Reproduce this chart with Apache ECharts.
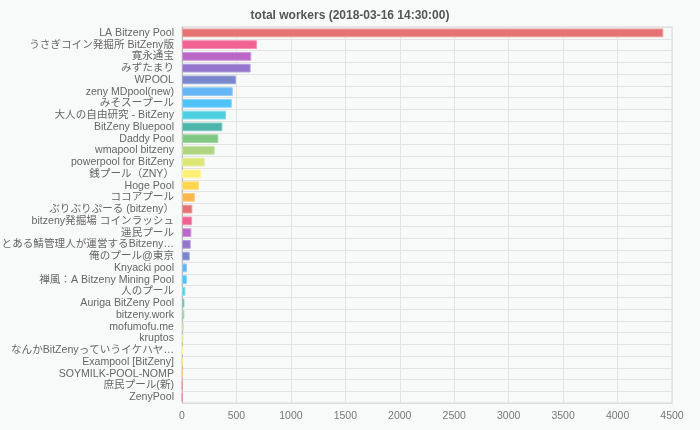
<!DOCTYPE html>
<html>
<head>
<meta charset="utf-8">
<script src="https://cdn.jsdelivr.net/npm/echarts@6/dist/echarts.min.js"></script>
<style>
html,body{margin:0;padding:0;background:#f8f9f9;}
#c{width:700px;height:430px;}
</style>
</head>
<body>
<div id="c"></div>
<script>
const titleText = 'total workers (2018-03-16 14:30:00)';
const categories = [
  'LA Bitzeny Pool','うさぎコイン発掘所 BitZeny版','寛永通宝','みずたまり','WPOOL','zeny MDpool(new)',
  'みそスープール','大人の自由研究 - BitZeny','BitZeny Bluepool','Daddy Pool','wmapool bitzeny',
  'powerpool for BitZeny','銭プール（ZNY）','Hoge Pool','ココアプール','ぶりぶりぷーる (bitzeny）',
  'bitzeny発掘場 コインラッシュ','遥民プール','とある鯖管理人が運営するBitzeny…','俺のプール@東京',
  'Knyacki pool','禅風：A Bitzeny Mining Pool','人のプール','Auriga BitZeny Pool','bitzeny.work',
  'mofumofu.me','kruptos','なんかBitZenyっていうイケハヤ…','Exampool [BitZeny]','SOYMILK-POOL-NOMP',
  '庶民プール(新)','ZenyPool'
];
const workers = [4420, 688, 636, 630, 496, 466, 457, 404, 371, 334, 300, 208, 175, 156, 119, 95,
  93, 86, 80, 71, 46, 45, 31, 22, 21, 15, 13, 6, 5, 4, 3, 2];
const xTicks = {min: 0, max: 4500, interval: 500};
const palette = ['#E57373','#F06292','#BA68C8','#9575CD','#7986CB','#64B5F6','#4FC3F7','#4DD0E1',
  '#4DB6AC','#81C784','#AED581','#DCE775','#FFF176','#FFD54F','#FFB74D'];
const borderPalette = ['#EF9A9A','#F48FB1','#CE93D8','#B39DDB','#9FA8DA','#90CAF9','#81D4FA','#80DEEA',
  '#80CBC4','#A5D6A7','#C5E1A5','#E6EE9C','#FFF59D','#FFE082','#FFCC80'];

const font = '"Liberation Sans", Arial, "Noto Sans CJK JP", sans-serif';

const chart = echarts.init(document.getElementById('c'), null, {renderer: 'canvas'});
chart.setOption({
  backgroundColor: '#f8f9f9',
  animation: false,
  title: {
    text: titleText, left: 'center', top: 5,
    textStyle: {fontSize: 12, fontWeight: 'bold', color: '#555', fontFamily: font}
  },
  grid: {left: 182, right: 28, top: 27, bottom: 27, containLabel: false, outerBoundsMode: 'none',
    show: true, borderColor: '#d6d6d6', borderWidth: 1},
  xAxis: {
    type: 'value', min: xTicks.min, max: xTicks.max, interval: xTicks.interval,
    axisLine: {show: true, lineStyle: {color: '#ddd'}},
    axisTick: {show: false},
    axisLabel: {color: '#777', fontSize: 10.5, fontFamily: font, margin: 8, formatter: v => String(v)},
    splitLine: {show: true, lineStyle: {color: '#e3e3e3'}}
  },
  yAxis: {
    type: 'category', data: categories, inverse: true,
    axisLine: {show: true, lineStyle: {color: '#bbb'}},
    axisTick: {show: false},
    axisLabel: {color: '#666', fontSize: 10.6, fontFamily: font, margin: 8, interval: 0},
    splitLine: {show: true, interval: 0, lineStyle: {color: '#e3e3e3'}}
  },
  series: [{
    type: 'bar',
    data: workers.map((v, i) => ({
      value: v,
      itemStyle: {color: palette[i % palette.length], borderColor: borderPalette[i % borderPalette.length], borderWidth: 1}
    })),
    barCategoryGap: '26%'
  }]
});
</script>
</body>
</html>
